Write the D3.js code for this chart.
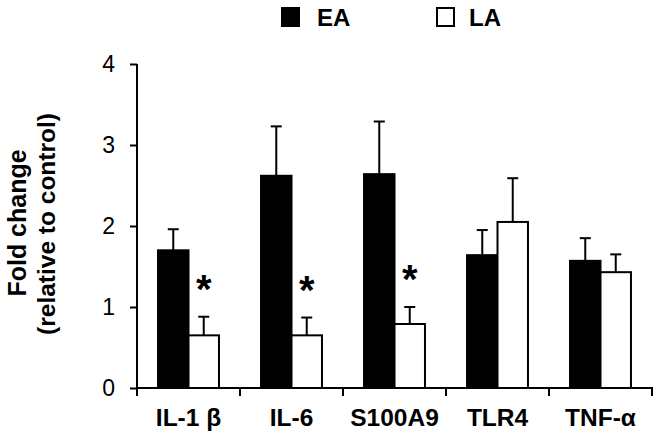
<!DOCTYPE html>
<html><head><meta charset="utf-8">
<script src="https://cdn.jsdelivr.net/npm/d3@7"></script>
<style>body{margin:0;background:#fff}svg{display:block}text{font-family:Arial,"Liberation Sans",Helvetica,sans-serif}</style>
</head><body><svg id="c" width="660" height="438"></svg>
<script>
const categories = ["IL-1 β","IL-6","S100A9","TLR4","TNF-α"];
const seriesNames = ["EA","LA"];
const eaValues = [1.70,2.62,2.64,1.64,1.57];
const eaErrors = [0.26,0.61,0.65,0.31,0.28];
const laValues = [0.65,0.65,0.79,2.05,1.43];
const laErrors = [0.23,0.22,0.21,0.54,0.22];
const laSignificant = [true,true,true,false,false];
const yTicks = [0,1,2,3,4];

const FONT = "Arial,'Liberation Sans',Helvetica,sans-serif";
const svg = d3.select("#c");
const x0 = d3.scaleBand().domain(categories).range([137,652]).paddingInner(0).paddingOuter(0);
const x1 = d3.scaleBand().domain(seriesNames).range([0,x0.bandwidth()]).paddingInner(0).paddingOuter(0.69);
const y = d3.scaleLinear().domain([0,4]).range([388,64]);
const fills = {EA:"#000",LA:"#fff"};

const rows = categories.map((c,i)=>({c, vals:[
  {s:"EA",v:eaValues[i],e:eaErrors[i],sig:false},
  {s:"LA",v:laValues[i],e:laErrors[i],sig:laSignificant[i]}]}));

const grp = svg.append("g").selectAll("g.grp").data(rows).join("g").attr("transform",d=>`translate(${x0(d.c)},0)`);
grp.selectAll("g.err").data(d=>d.vals).join("g").each(function(d){
  const sel=d3.select(this); const cx=x1(d.s)+x1.bandwidth()/2;
  sel.append("line").attr("x1",cx).attr("x2",cx).attr("y1",y(d.v)).attr("y2",y(d.v+d.e)).attr("stroke","#000").attr("stroke-width",2);
  sel.append("line").attr("x1",cx-5.5).attr("x2",cx+5.5).attr("y1",y(d.v+d.e)).attr("y2",y(d.v+d.e)).attr("stroke","#000").attr("stroke-width",2);
  if(d.sig) sel.append("text").attr("x",cx).attr("y",y(d.v+d.e)-14).attr("text-anchor","middle").attr("font-size",40).attr("font-weight","bold").text("*");
});
grp.selectAll("rect").data(d=>d.vals).join("rect")
  .attr("x",d=>x1(d.s)).attr("width",x1.bandwidth())
  .attr("y",d=>y(d.v)).attr("height",d=>y(0)-y(d.v))
  .attr("fill",d=>fills[d.s]).attr("stroke","#000").attr("stroke-width",2);

// y axis
const ya = svg.append("g").attr("transform","translate(137,0)")
  .call(d3.axisLeft(y).tickValues(yTicks).tickSize(7).tickPadding(15).tickFormat(d3.format("d")));
ya.select(".domain").attr("stroke-width",2).attr("d","M0,64V389");
ya.selectAll(".tick line").attr("stroke-width",2);
ya.selectAll("text").attr("font-size",23).attr("font-family",FONT).attr("fill","#000");

// x axis
const xa = svg.append("g").attr("transform","translate(0,388)")
  .call(d3.axisBottom(x0).tickSize(0));
xa.select(".domain").attr("stroke-width",2).attr("d","M136,0H653");
xa.selectAll("text").attr("y",38).attr("dy",0).attr("font-size",24.5).attr("font-weight","bold").attr("font-family",FONT).attr("fill","#000");
const edges = categories.map(c=>x0(c)).concat([x0.range()[1]]);
xa.selectAll("line.edge").data(edges).join("line").attr("class","edge")
  .attr("x1",d=>d).attr("x2",d=>d).attr("y1",0).attr("y2",8).attr("stroke","#000").attr("stroke-width",2);

// y title
svg.append("text").attr("transform","translate(26,223) rotate(-90)").attr("text-anchor","middle").attr("font-weight","bold").attr("font-size",25).text("Fold change");
svg.append("text").attr("transform","translate(55,224) rotate(-90)").attr("text-anchor","middle").attr("font-weight","bold").attr("font-size",24.5).text("(relative to control)");

// legend
const leg = [{s:"EA",x:281,tx:317},{s:"LA",x:436,tx:469}];
const lg = svg.append("g");
lg.selectAll("rect").data(leg).join("rect").attr("x",d=>d.x+1).attr("y",8).attr("width",17).attr("height",18)
  .attr("fill",d=>fills[d.s]).attr("stroke","#000").attr("stroke-width",2);
lg.selectAll("text").data(leg).join("text").attr("x",d=>d.tx).attr("y",26).attr("font-size",24).attr("font-weight","bold").text(d=>d.s);
</script></body></html>
